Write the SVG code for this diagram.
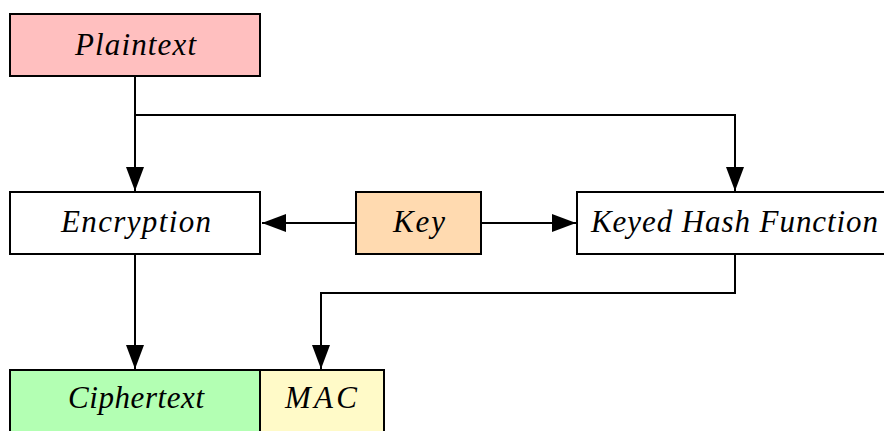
<svg xmlns="http://www.w3.org/2000/svg" width="884" height="431" viewBox="0 0 884 431">
<style>
.box{stroke:#000;stroke-width:2}
.lbl{font-family:"Liberation Serif",serif;font-style:italic;font-size:31px;fill:#000;text-anchor:middle}
.conn{fill:none;stroke:#000;stroke-width:2}
</style>
<defs>
<marker id="ah" viewBox="0 0 24 18" refX="24" refY="9" markerWidth="24" markerHeight="18" markerUnits="userSpaceOnUse" orient="auto">
<path d="M0,0 L24,9 L0,18 Z" fill="#000"/>
</marker>
</defs>
<rect width="884" height="431" fill="#fff"/>
<g id="plaintext">
<rect class="box" x="10" y="14" width="250" height="62" fill="#ffbfbf"/>
<text class="lbl" x="135.5" y="55" textLength="121" lengthAdjust="spacing">Plaintext</text>
</g>
<g id="encryption">
<rect class="box" x="10" y="192" width="250" height="62" fill="#fff"/>
<text class="lbl" x="136" y="232" textLength="150" lengthAdjust="spacing">Encryption</text>
</g>
<g id="key">
<rect class="box" x="356" y="192" width="125" height="62" fill="#ffdab0"/>
<text class="lbl" x="419" y="232" textLength="52" lengthAdjust="spacing">Key</text>
</g>
<g id="keyed-hash">
<rect class="box" x="577" y="192" width="320" height="62" fill="#fff"/>
<text class="lbl" x="734.5" y="232" textLength="287" lengthAdjust="spacing">Keyed Hash Function</text>
</g>
<g id="ciphertext">
<rect class="box" x="10" y="370" width="250" height="70" fill="#b3ffb3"/>
<text class="lbl" x="136" y="408" textLength="136" lengthAdjust="spacing">Ciphertext</text>
</g>
<g id="mac">
<rect class="box" x="260" y="370" width="124" height="70" fill="#fffac8"/>
<text class="lbl" x="321" y="408" textLength="72" lengthAdjust="spacing">MAC</text>
</g>
<g id="connectors">
<path class="conn" d="M135,76 V191" marker-end="url(#ah)"/>
<path class="conn" d="M135,115 H735 V191" marker-end="url(#ah)"/>
<path class="conn" d="M356,223 H262" marker-end="url(#ah)"/>
<path class="conn" d="M481,223 H576" marker-end="url(#ah)"/>
<path class="conn" d="M135,254 V369" marker-end="url(#ah)"/>
<path class="conn" d="M735,254 V293 H321 V369" marker-end="url(#ah)"/>
</g>
</svg>
